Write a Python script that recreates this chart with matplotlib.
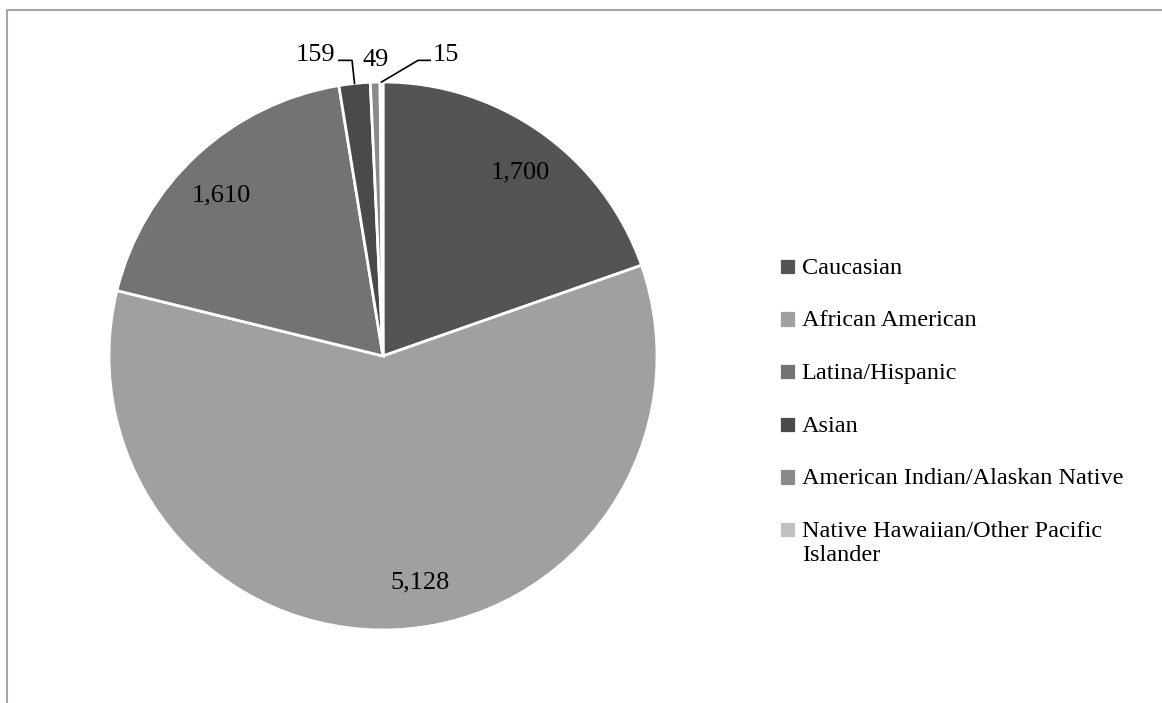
import matplotlib.pyplot as plt
from matplotlib.patches import Rectangle
import numpy as np

groups = ['Caucasian', 'African American', 'Latina/Hispanic', 'Asian',
          'American Indian/Alaskan Native', 'Native Hawaiian/Other Pacific\nIslander']
counts = [1700, 5128, 1610, 159, 49, 15]
count_labels = ['1,700', '5,128', '1,610', '159', '49', '15']
shades = ['#545454', '#a0a0a0', '#737373', '#4a4a4a', '#8a8a8a', '#c0c0c0']

plt.rcParams['font.family'] = ['Liberation Serif', 'DejaVu Serif']

W, H = 1162, 703
fig = plt.figure(figsize=(W / 100, H / 100), dpi=100)

# gray frame around the chart area (runs off right/bottom edge)
fig.patches.append(Rectangle((7 / W, -0.05), 1.1, 1 - 10 / H + 0.05,
                             transform=fig.transFigure, fill=False,
                             edgecolor='#a6a6a6', lw=1.5))

cx, cy, r = 383, 356, 274
ax = fig.add_axes([(cx - r) / W, (H - cy - r) / H, 2 * r / W, 2 * r / H])
wedges, _ = ax.pie(counts, colors=shades, startangle=90, counterclock=False,
                   radius=1, wedgeprops=dict(edgecolor='white', linewidth=2))
ax.set_xlim(-1, 1)
ax.set_ylim(-1, 1)
ax.set_aspect('equal')
ax.axis('off')

fs = 19
# big slices: label inside the wedge
inside_xy = {0: (0.50, 0.67), 1: (0.135, -0.825), 2: (-0.59, 0.585)}
for i, (tx, ty) in inside_xy.items():
    ax.text(tx, ty, count_labels[i], ha='center', va='center', fontsize=fs)

# small slices: label above, leader line (elbow x-range) or none
above = {3: (-0.248, 1.099, (-0.161, -0.113)),
         4: (-0.027, 1.08, None),
         5: (0.230, 1.099, (0.172, 0.128))}
for i, (tx, ty, elbow) in above.items():
    w = wedges[i]
    ang = np.deg2rad((w.theta1 + w.theta2) / 2)
    ax.text(tx, ty, count_labels[i], ha='center', va='center',
            fontsize=fs, clip_on=False)
    if elbow:
        ax.plot([elbow[0], elbow[1], np.cos(ang)], [1.079, 1.079, np.sin(ang)],
                color='black', lw=1.2, clip_on=False)

leg = fig.legend(wedges, groups, loc='upper left',
                 bbox_to_anchor=(757 / W, 1 - 236 / H), frameon=False,
                 fontsize=17.5, handlelength=0.72, handleheight=0.72,
                 handletextpad=0.22, labelspacing=1.3)
# keep the marker on the first line of a two-line label
for col in leg._legend_handle_box.get_children():
    for row in col.get_children():
        row.align = 'top'

fig.savefig('out.png', dpi=100)
